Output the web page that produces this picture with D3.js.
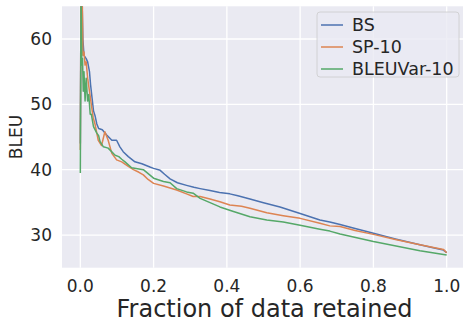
<!DOCTYPE html>
<html>
<head>
<meta charset="utf-8">
<script src="https://cdn.jsdelivr.net/npm/d3@7"></script>
<style>
  html, body { margin: 0; padding: 0; background: #fff; }
  svg { display: block; font-family: "DejaVu Sans", sans-serif; }
</style>
</head>
<body>
<svg id="chart" width="463" height="323"></svg>
<script>
// values
const bsX = [0, 0.002, 0.004, 0.007, 0.01, 0.016, 0.02, 0.025, 0.028, 0.032, 0.036, 0.04, 0.045, 0.05, 0.06, 0.072, 0.086, 0.099, 0.108, 0.117, 0.131, 0.149, 0.168, 0.19, 0.2, 0.218, 0.23, 0.245, 0.265, 0.29, 0.31, 0.327, 0.354, 0.38, 0.408, 0.43, 0.463, 0.5, 0.545, 0.6, 0.654, 0.681, 0.709, 0.75, 0.8, 0.86, 0.927, 0.96, 0.991, 1.0];
const bsY = [44, 70, 68, 60, 57.5, 57, 56.5, 55, 53, 51, 49, 48.3, 47, 46.3, 46.1, 45.3, 44.5, 44.5, 43.5, 42.75, 42.0, 41.2, 40.9, 40.4, 40.2, 39.9, 39.3, 38.6, 38.0, 37.6, 37.3, 37.1, 36.8, 36.5, 36.3, 36.0, 35.5, 34.95, 34.3, 33.3, 32.3, 32.0, 31.6, 31.0, 30.26, 29.4, 28.5, 28.1, 27.7, 27.3];

const spX = [0, 0.002, 0.005, 0.007, 0.01, 0.013, 0.016, 0.02, 0.025, 0.03, 0.035, 0.04, 0.045, 0.049, 0.058, 0.067, 0.076, 0.086, 0.099, 0.113, 0.131, 0.145, 0.16, 0.172, 0.185, 0.2, 0.227, 0.263, 0.29, 0.308, 0.327, 0.354, 0.381, 0.408, 0.44, 0.463, 0.509, 0.554, 0.6, 0.654, 0.681, 0.709, 0.75, 0.8, 0.86, 0.927, 0.991, 1.0];
const spY = [43, 70, 68, 57.5, 58, 56, 56.5, 54, 52, 50, 48, 47, 45.6, 44.5, 43.7, 45.8, 44.5, 42.5, 41.5, 41.2, 40.5, 40.0, 39.6, 39.2, 38.5, 37.9, 37.5, 36.9, 36.3, 35.9, 35.9, 35.5, 35.1, 34.6, 34.4, 34.1, 33.4, 32.96, 32.55, 31.8, 31.4, 31.3, 30.7, 30.1, 29.3, 28.5, 27.8, 27.3];

const bvX = [0, 0.002, 0.004, 0.006, 0.008, 0.01, 0.013, 0.016, 0.02, 0.023, 0.027, 0.03, 0.036, 0.045, 0.05, 0.054, 0.063, 0.076, 0.095, 0.105, 0.113, 0.122, 0.14, 0.172, 0.2, 0.227, 0.245, 0.263, 0.29, 0.308, 0.327, 0.381, 0.418, 0.463, 0.509, 0.554, 0.6, 0.654, 0.681, 0.709, 0.8, 0.927, 1.0];
const bvY = [39.5, 68, 56, 57, 52, 55, 50.5, 54, 50.5, 51.5, 48.5, 48.5, 46.6, 45.6, 45.2, 44.3, 43.5, 43.3, 42.2, 42.0, 41.6, 41.2, 40.3, 40.0, 38.7, 38.2, 38.0, 37.1, 36.6, 36.4, 35.6, 34.3, 33.6, 32.8, 32.3, 32.0, 31.5, 30.9, 30.6, 30.15, 29.0, 27.6, 26.95];

const seriesNames = ['BS', 'SP-10', 'BLEUVar-10'];
const colors = ['#4C72B0', '#DD8452', '#55A868'];
const xTicks = [0, 0.2, 0.4, 0.6, 0.8, 1.0];
const yTicks = [30, 40, 50, 60];

const series = [
  { name: seriesNames[0], pts: bsX.map((x, i) => [x, bsY[i]]) },
  { name: seriesNames[1], pts: spX.map((x, i) => [x, spY[i]]) },
  { name: seriesNames[2], pts: bvX.map((x, i) => [x, bvY[i]]) }
];

const svg = d3.select('#chart');
const pl = 62, pr = 465, pt = 6.3, pb = 267.7;

const x = d3.scaleLinear().domain([-0.05, 1.05]).range([pl, pr]);
const y = d3.scaleLinear().domain([25, 65]).range([pb, pt]);

svg.append('rect')
  .attr('x', pl).attr('y', pt)
  .attr('width', pr - pl).attr('height', pb - pt)
  .attr('fill', '#EAEAF2');

svg.append('clipPath').attr('id', 'clip')
  .append('rect')
  .attr('x', pl).attr('y', pt)
  .attr('width', pr - pl).attr('height', pb - pt);

// grid
svg.append('g').selectAll('line').data(xTicks).join('line')
  .attr('x1', d => x(d)).attr('x2', d => x(d))
  .attr('y1', pt).attr('y2', pb)
  .attr('stroke', '#fff').attr('stroke-width', 1.3);
svg.append('g').selectAll('line').data(yTicks).join('line')
  .attr('x1', pl).attr('x2', pr)
  .attr('y1', d => y(d)).attr('y2', d => y(d))
  .attr('stroke', '#fff').attr('stroke-width', 1.3);

// tick labels
svg.append('g').selectAll('text').data(xTicks).join('text')
  .attr('x', d => x(d)).attr('y', 291.5)
  .attr('text-anchor', 'middle')
  .attr('font-size', 17).attr('fill', '#262626')
  .text(d => d3.format('.1f')(d));
svg.append('g').selectAll('text').data(yTicks).join('text')
  .attr('x', 52).attr('y', d => y(d)).attr('dy', '0.36em')
  .attr('text-anchor', 'end')
  .attr('font-size', 17).attr('fill', '#262626')
  .text(d => d);

// axis titles
svg.append('text')
  .attr('x', 264.5).attr('y', 317)
  .attr('text-anchor', 'middle')
  .attr('font-size', 24).attr('fill', '#262626')
  .text('Fraction of data retained');
svg.append('text')
  .attr('transform', 'translate(21.5,137) rotate(-90)')
  .attr('text-anchor', 'middle')
  .attr('font-size', 17).attr('fill', '#262626')
  .text('BLEU');

// lines
const line = d3.line().x(d => x(d[0])).y(d => y(d[1]));
svg.append('g').attr('clip-path', 'url(#clip)')
  .selectAll('path').data(series).join('path')
  .attr('d', d => line(d.pts))
  .attr('fill', 'none')
  .attr('stroke', (d, i) => colors[i])
  .attr('stroke-width', 1.5)
  .attr('stroke-linejoin', 'round');

// legend
const lg = svg.append('g');
lg.append('rect')
  .attr('x', 317).attr('y', 12).attr('width', 142).attr('height', 65).attr('rx', 3)
  .attr('fill', '#EAEAF2').attr('fill-opacity', 0.8)
  .attr('stroke', '#cccccc').attr('stroke-width', 0.8);
const rows = lg.selectAll('g').data(series).join('g')
  .attr('transform', (d, i) => `translate(0,${25 + i * 22})`);
rows.append('line')
  .attr('x1', 321).attr('x2', 343)
  .attr('stroke', (d, i) => colors[i]).attr('stroke-width', 1.5);
rows.append('text')
  .attr('x', 352).attr('dy', '0.36em')
  .attr('font-size', 17.5).attr('fill', '#262626')
  .text(d => d.name);
</script>
</body>
</html>
